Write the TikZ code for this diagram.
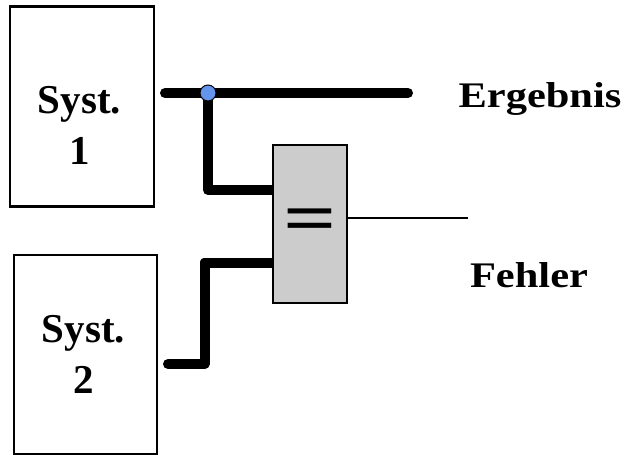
\documentclass[tikz,border=0pt]{standalone}
\usepackage{fontspec}
\setmainfont{Liberation Serif}
\usetikzlibrary{calc}
\definecolor{dotblue}{RGB}{100,149,237}
\definecolor{cmpgray}{RGB}{204,204,204}
\tikzset{
  sysbox/.style={draw, line width=2.5pt, minimum width=144pt, minimum height=200pt, inner sep=0pt, fill=white},
  systext/.style={font=\fontsize{41}{51}\selectfont\bfseries, align=center, inner sep=0pt, anchor=base},
  labtext/.style={font=\fontsize{36}{40}\selectfont\bfseries, inner sep=0pt, anchor=base, xscale=1.18},
  wire/.style={line width=10pt, line cap=round, line join=round},
  outwire/.style={line width=2pt},
  cmpbox/.style={draw, line width=2.5pt, fill=cmpgray, minimum width=74pt, minimum height=158pt, inner sep=0pt},
  junction/.style={circle, draw, line width=1pt, fill=dotblue, minimum size=16pt, inner sep=0pt}
}
\begin{document}
\begin{tikzpicture}[x=1pt,y=-1pt]
\useasboundingbox (0,0) rectangle (632,455);
% system boxes
\node[sysbox] (s1) at (82,106.5) {};
\node[systext] (s1t) at (79.5,164) {Syst.\\1};
\node[sysbox, minimum width=143pt, minimum height=199pt] (s2) at (85.5,354.5) {};
\node[systext] (s2t) at (83.5,393) {Syst.\\2};
% coordinates
\coordinate (a1) at (165,93);
\coordinate (res) at (408,93);
\coordinate (j) at (208,93);
\coordinate (in1) at (290,190);
\coordinate (a2) at (168,364);
\coordinate (k2) at (204.5,262.5);
\coordinate (in2) at (290,262.5);
\coordinate (out) at (468,218);
% wires
\draw[wire] (a1) -- (res);
\draw[wire] (j) |- (in1);
\draw[wire] (a2) -| (k2) -- (in2);
% comparator
\node[cmpbox] (cmp) at (310,224) {};
\node[font=\fontsize{72}{72}\selectfont\bfseries, inner sep=0pt] (eq) at (310,226) {\scalebox{1.3}[1]{=}};
\draw[outwire] (cmp.east |- out) -- (out);
% junction dot
\node[junction] (dot) at (j) {};
% labels
\node[labtext] (erg) at (540,107) {Ergebnis};
\node[labtext] (feh) at (529,287) {Fehler};
\end{tikzpicture}
\end{document}
